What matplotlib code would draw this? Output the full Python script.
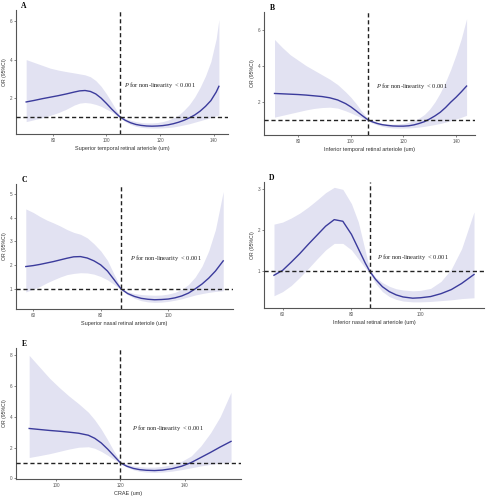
import matplotlib
matplotlib.use("Agg")
import matplotlib.pyplot as plt

plt.rcParams['mathtext.fontset'] = 'custom'
plt.rcParams['mathtext.it'] = 'Liberation Serif:italic'
plt.rcParams['mathtext.rm'] = 'Liberation Serif'
plt.rcParams['font.family'] = ['Liberation Sans', 'DejaVu Sans']

# ---------------- data ----------------
# Panel A: Superior temporal retinal arteriole
a_x     = [70, 73, 76, 79, 82, 85, 88, 90, 92, 94, 96, 98, 100, 102, 104, 105, 107, 109, 111, 113,
           115, 117, 119, 121, 123, 125, 127, 129, 131, 133, 135, 137, 139, 141, 142]
a_or    = [1.78, 1.86, 1.95, 2.03, 2.11, 2.2, 2.3, 2.36, 2.38, 2.33, 2.2, 1.98, 1.7, 1.4, 1.13, 1.0,
           0.82, 0.69, 0.6, 0.55, 0.52, 0.51, 0.52, 0.54, 0.58, 0.64, 0.72, 0.82, 0.95, 1.1, 1.3,
           1.55, 1.85, 2.3, 2.6]
a_upper = [4.0, 3.85, 3.7, 3.55, 3.45, 3.37, 3.3, 3.25, 3.2, 3.1, 2.9, 2.6, 2.2, 1.75, 1.28, 1.08,
           0.92, 0.82, 0.75, 0.7, 0.68, 0.68, 0.7, 0.75, 0.83, 0.95, 1.1, 1.35, 1.65, 2.05, 2.55,
           3.15, 3.9, 5.1, 6.1]
a_lower = [0.75, 0.85, 0.95, 1.08, 1.22, 1.4, 1.62, 1.72, 1.75, 1.72, 1.65, 1.55, 1.4, 1.25, 1.05,
           0.95, 0.75, 0.6, 0.5, 0.45, 0.42, 0.41, 0.41, 0.42, 0.44, 0.47, 0.52, 0.58, 0.64, 0.72,
           0.8, 0.88, 0.96, 1.05, 1.1]
a_xticks = [80, 100, 120, 140]
a_yticks = [2, 4, 6]

# Panel B: Inferior temporal retinal arteriole
b_x     = [71, 74, 77, 80, 83, 86, 89, 92, 95, 98, 100, 102, 104, 106.5, 108, 110, 112, 114, 116,
           118, 120, 122, 124, 126, 128, 130, 132, 134, 136, 138, 140, 142, 144]
b_or    = [2.46, 2.44, 2.42, 2.4, 2.37, 2.33, 2.29, 2.22, 2.1, 1.9, 1.72, 1.5, 1.27, 1.0, 0.9, 0.8,
           0.73, 0.69, 0.66, 0.65, 0.65, 0.67, 0.72, 0.8, 0.9, 1.05, 1.22, 1.42, 1.68, 1.98, 2.25,
           2.55, 2.87]
b_upper = [5.45, 5.0, 4.6, 4.3, 4.0, 3.75, 3.5, 3.25, 2.95, 2.55, 2.25, 1.9, 1.5, 1.07, 0.95, 0.86,
           0.8, 0.77, 0.76, 0.77, 0.8, 0.86, 0.96, 1.1, 1.3, 1.6, 2.0, 2.5, 3.1, 3.8, 4.6, 5.5, 6.6]
b_lower = [1.15, 1.25, 1.35, 1.45, 1.55, 1.63, 1.68, 1.7, 1.65, 1.5, 1.38, 1.25, 1.12, 0.95, 0.83,
           0.72, 0.64, 0.58, 0.55, 0.54, 0.54, 0.55, 0.57, 0.6, 0.64, 0.69, 0.74, 0.8, 0.87, 0.95,
           1.04, 1.14, 1.25]
b_xticks = [80, 100, 120, 140]
b_yticks = [2, 4, 6]

# Panel C: Superior nasal retinal arteriole
c_x     = [57.8, 60, 62, 64, 66, 68, 70, 72, 74, 76, 78, 80, 82, 84, 86, 88, 90, 92, 94, 96, 98,
           100, 102, 104, 106, 108, 110, 112, 114, 116.3]
c_or    = [1.94, 1.98, 2.03, 2.09, 2.15, 2.22, 2.29, 2.35, 2.36, 2.3, 2.18, 2.01, 1.75, 1.38, 1.0,
           0.8, 0.68, 0.6, 0.56, 0.54, 0.55, 0.57, 0.62, 0.7, 0.82, 1.0, 1.2, 1.45, 1.75, 2.18]
c_upper = [4.37, 4.22, 4.05, 3.9, 3.78, 3.65, 3.5, 3.38, 3.3, 3.15, 2.9, 2.6, 2.2, 1.6, 1.05, 0.88,
           0.8, 0.76, 0.74, 0.73, 0.74, 0.78, 0.85, 0.98, 1.18, 1.5, 1.95, 2.6, 3.5, 5.1]
c_lower = [0.87, 0.98, 1.1, 1.25, 1.38, 1.5, 1.6, 1.65, 1.68, 1.67, 1.62, 1.52, 1.38, 1.18, 0.97,
           0.75, 0.6, 0.5, 0.45, 0.43, 0.44, 0.47, 0.52, 0.58, 0.66, 0.74, 0.8, 0.85, 0.89, 0.92]
c_xticks = [60, 80, 100]
c_yticks = [1, 2, 3, 4, 5]

# Panel D: Inferior nasal retinal arteriole
d_x     = [57.5, 60, 62.5, 65, 67.5, 70, 72.5, 75, 77.5, 80, 82, 84, 85.3, 87, 89, 91, 93, 95,
           97.8, 100, 103, 106, 109, 112, 115.6]
d_or    = [0.9, 1.02, 1.22, 1.43, 1.66, 1.88, 2.1, 2.26, 2.22, 1.9, 1.55, 1.2, 1.0, 0.8, 0.62, 0.5,
           0.42, 0.37, 0.34, 0.35, 0.38, 0.45, 0.55, 0.7, 0.92]
d_upper = [2.15, 2.2, 2.3, 2.42, 2.57, 2.74, 2.92, 3.05, 3.0, 2.65, 2.2, 1.5, 1.05, 0.85, 0.72,
           0.63, 0.57, 0.54, 0.52, 0.53, 0.58, 0.75, 1.05, 1.55, 2.45]
d_lower = [0.4, 0.5, 0.65, 0.85, 1.07, 1.3, 1.52, 1.68, 1.68, 1.52, 1.3, 1.08, 0.95, 0.7, 0.5,
           0.38, 0.31, 0.27, 0.25, 0.25, 0.26, 0.28, 0.3, 0.33, 0.35]
d_xticks = [60, 80, 100]
d_yticks = [1, 2, 3]

# Panel E: CRAE
e_x     = [91.6, 95, 98, 101, 104, 107, 110, 112, 114, 116, 118, 120, 122, 124, 126, 128, 130.6,
           133, 136, 139, 142, 145, 148, 151, 154.4]
e_or    = [3.24, 3.17, 3.11, 3.06, 3.0, 2.93, 2.8, 2.6, 2.3, 1.9, 1.45, 1.0, 0.78, 0.64, 0.56,
           0.52, 0.5, 0.53, 0.62, 0.78, 1.02, 1.35, 1.68, 2.03, 2.4]
e_upper = [8.0, 7.2, 6.5, 5.9, 5.35, 4.85, 4.3, 3.8, 3.2, 2.5, 1.75, 1.08, 0.9, 0.8, 0.75, 0.72,
           0.72, 0.77, 0.88, 1.1, 1.45, 2.1, 2.95, 4.0, 5.6]
e_lower = [1.35, 1.48, 1.6, 1.75, 1.9, 2.02, 2.05, 1.95, 1.75, 1.5, 1.22, 0.95, 0.72, 0.55, 0.45,
           0.4, 0.38, 0.4, 0.46, 0.56, 0.68, 0.8, 0.9, 0.98, 1.05]
e_xticks = [100, 120, 140]
e_yticks = [0, 2, 4, 6, 8]

panels = [
    dict(tag="A", x=a_x, y=a_or, lo=a_lower, hi=a_upper, xt=a_xticks, yt=a_yticks,
         xlabel="Superior temporal retinal arteriole (um)", vline=105,
         box=(16, 10, 228, 134), xlim=(66.2, 145.4), ylim=(0.1, 6.6), ptxt=(0.51, 0.393)),
    dict(tag="B", x=b_x, y=b_or, lo=b_lower, hi=b_upper, xt=b_xticks, yt=b_yticks,
         xlabel="Inferior temporal retinal arteriole (um)", vline=106.5,
         box=(264, 12, 475, 135), xlim=(67, 147.2), ylim=(0.16, 6.97), ptxt=(0.532, 0.40)),
    dict(tag="C", x=c_x, y=c_or, lo=c_lower, hi=c_upper, xt=c_xticks, yt=c_yticks,
         xlabel="Superior nasal retinal arteriole (um)", vline=86,
         box=(16, 184, 233, 309), xlim=(54.9, 119.2), ylim=(0.15, 5.42), ptxt=(0.525, 0.41)),
    dict(tag="D", x=d_x, y=d_or, lo=d_lower, hi=d_upper, xt=d_xticks, yt=d_yticks,
         xlabel="Inferior nasal retinal arteriole (um)", vline=85.3,
         box=(264, 182, 484, 308), xlim=(54.6, 118.5), ylim=(0.1, 3.18), ptxt=(0.514, 0.407)),
    dict(tag="E", x=e_x, y=e_or, lo=e_lower, hi=e_upper, xt=e_xticks, yt=e_yticks,
         xlabel="CRAE (um)", vline=120,
         box=(16, 348, 241, 479), xlim=(87.5, 157.5), ylim=(-0.05, 8.48), ptxt=(0.517, 0.389)),
]

W, H = 486, 500
fig = plt.figure(figsize=(W / 100, H / 100), dpi=100)
fig.patch.set_facecolor("white")

line_col = "#3b3b9c"
fill_col = "#e2e2f2"
axis_col = "#555555"

for p in panels:
    l, t, r, b = p["box"]
    ax = fig.add_axes([l / W, 1 - b / H, (r - l) / W, (b - t) / H])
    ax.fill_between(p["x"], p["lo"], p["hi"], color=fill_col, lw=0, zorder=1)
    ax.plot(p["x"], p["y"], color=line_col, lw=1.0, zorder=3)
    ax.axhline(1, color="#222222", ls=(0, (3, 2)), lw=1.0, zorder=4)
    ax.axvline(p["vline"], color="#222222", ls=(0, (3, 2)), lw=1.0, zorder=4)
    ax.set_xlim(*p["xlim"])
    ax.set_ylim(*p["ylim"])
    ax.set_xticks(p["xt"])
    ax.set_yticks(p["yt"])
    ax.tick_params(labelsize=3.3, length=1.5, width=0.5, colors=axis_col, pad=1.2)
    for s in ["top", "right"]:
        ax.spines[s].set_visible(False)
    for s in ["left", "bottom"]:
        ax.spines[s].set_color(axis_col)
        ax.spines[s].set_linewidth(0.8)
    ax.set_xlabel(p["xlabel"], fontsize=4.0, color="#333333", labelpad=2.0)
    ax.set_ylabel("OR (95%CI)", fontsize=3.7, color="#333333", labelpad=2.0)
    ax.text(p["ptxt"][0], p["ptxt"][1], r"$\it{P}$ for non-linearity  < 0.001",
            transform=ax.transAxes, fontsize=4.6, family="Liberation Serif",
            color="#222222", va="center", ha="left")
    fig.text((l + 8) / W, 1 - (t - 4) / H, p["tag"], fontsize=5.5, fontweight="bold",
             family="Liberation Serif", va="center", ha="center")

fig.savefig("out.png", dpi=100, facecolor="white")
